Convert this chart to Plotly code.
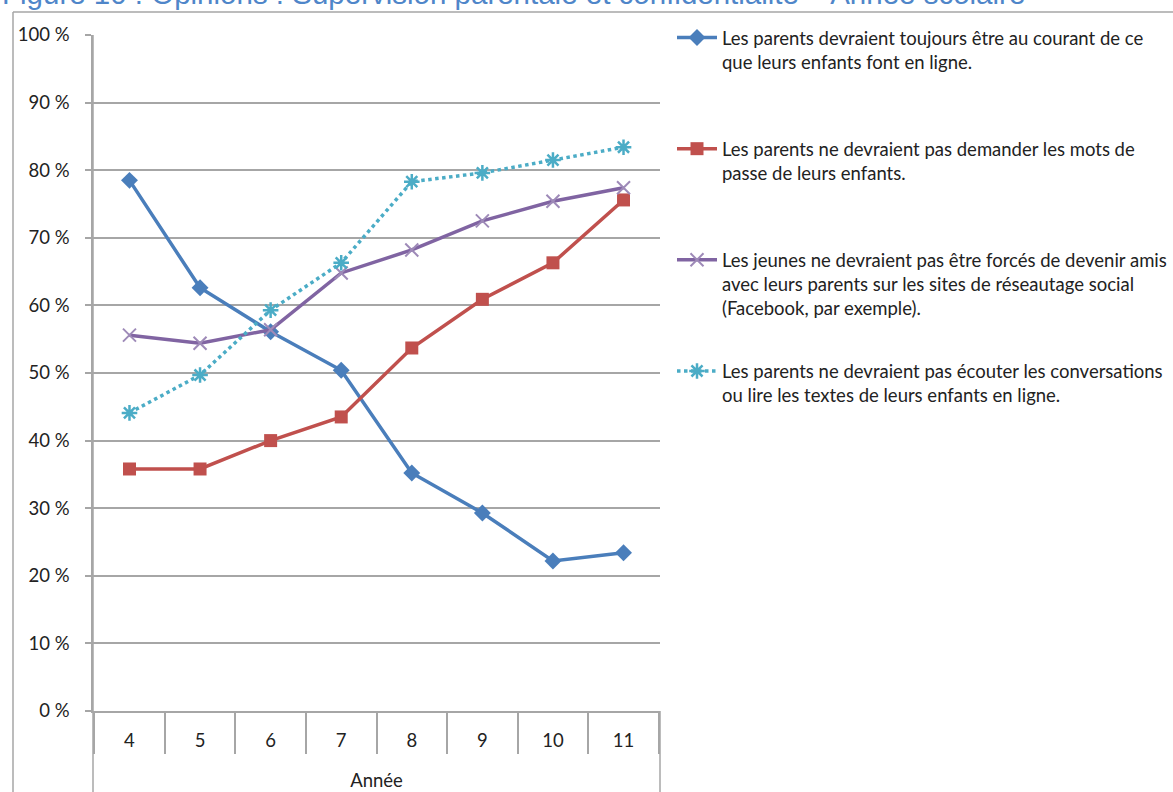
import plotly.graph_objects as go

years = ["4", "5", "6", "7", "8", "9", "10", "11"]

s1_name = "Les parents devraient toujours être au courant de ce<br>que leurs enfants font en ligne.<br>\u00a0"
s1_vals = [78.5, 62.6, 56.1, 50.4, 35.2, 29.3, 22.2, 23.4]

s2_name = "Les parents ne devraient pas demander les mots de<br>passe de leurs enfants.<br>\u00a0"
s2_vals = [35.8, 35.8, 40.0, 43.5, 53.7, 60.9, 66.3, 75.6]

s3_name = "Les jeunes ne devraient pas être forcés de devenir amis<br>avec leurs parents sur les sites de réseautage social<br>(Facebook, par exemple)."
s3_vals = [55.6, 54.4, 56.4, 64.8, 68.2, 72.5, 75.4, 77.4]

s4_name = "Les parents ne devraient pas écouter les conversations<br>ou lire les textes de leurs enfants en ligne.<br>\u00a0"
s4_vals = [44.1, 49.7, 59.3, 66.3, 78.3, 79.6, 81.5, 83.4]

y_ticks = [0, 10, 20, 30, 40, 50, 60, 70, 80, 90, 100]

title_text = "Figure 10 : Opinions : Supervision parentale et confidentialité – Année scolaire"

FONT = "Lato"
GRID = "#a6a6a6"
TXT = "#222222"

fig = go.Figure()
fig.add_trace(go.Scatter(
    x=years, y=s1_vals, name=s1_name, mode="lines+markers", legendgroup="g1",
    line=dict(color="#4a7ebb", width=3.5),
    marker=dict(symbol="diamond", size=13, color="#4a7ebb"),
))
fig.add_trace(go.Scatter(
    x=years, y=s2_vals, name=s2_name, mode="lines+markers", legendgroup="g2",
    line=dict(color="#c0504d", width=3.5),
    marker=dict(symbol="square", size=13, color="#c0504d"),
))
fig.add_trace(go.Scatter(
    x=years, y=s3_vals, name=s3_name, mode="lines+markers", legendgroup="g3",
    line=dict(color="#8064a2", width=3.5),
    marker=dict(symbol="x-thin-open", size=13, color="#9e8ab8",
                line=dict(color="#9e8ab8", width=2)),
))
fig.add_trace(go.Scatter(
    x=years, y=s4_vals, name=s4_name, mode="lines+markers", legendgroup="g4",
    line=dict(color="#4bacc6", width=3.5, dash="dot"),
    marker=dict(symbol="asterisk-open", size=13, color="#4bacc6",
                line=dict(color="#4bacc6", width=2.5)),
))

W, H = 1173, 792
L, R, T, B = 93, 513, 35, 81
pw, ph = W - L - R, H - T - B

def px_x(px):
    return (px - L) / pw

def px_y(py):
    return (H - B - py) / ph

shapes = [
    dict(type="line", xref="paper", yref="paper", x0=px_x(13), x1=px_x(W), y0=px_y(12), y1=px_y(12),
         line=dict(color=GRID, width=1.5)),
    dict(type="line", xref="paper", yref="paper", x0=px_x(13), x1=px_x(13), y0=px_y(12), y1=px_y(H),
         line=dict(color=GRID, width=1.5)),
    dict(type="line", xref="paper", yref="paper", x0=0, x1=0, y0=1, y1=px_y(H),
         line=dict(color=GRID, width=1.5)),
    dict(type="line", xref="paper", yref="paper", x0=1, x1=1, y0=0, y1=px_y(H),
         line=dict(color=GRID, width=1.5)),
]

fig.update_layout(
    width=W, height=H,
    margin=dict(l=L, r=R, t=T, b=B, pad=0, autoexpand=False),
    paper_bgcolor="white", plot_bgcolor="white",
    font=dict(family=FONT, size=18.5, color=TXT),
    showlegend=True,
    legend=dict(
        x=px_x(672), xanchor="left", y=px_y(19), yanchor="top",
        font=dict(family=FONT, size=18.5, color=TXT),
        tracegroupgap=36, valign="top", itemwidth=40,
        bgcolor="rgba(0,0,0,0)", maxheight=760,
    ),
    xaxis=dict(
        type="category", categoryorder="array", categoryarray=years,
        tickson="boundaries", ticks="outside", ticklen=41, tickcolor=GRID, tickwidth=1.5,
        showgrid=False, showline=True, linecolor=GRID, linewidth=1.5,
        tickfont=dict(family=FONT, size=18.5, color=TXT),
        ticklabelstandoff=12,
        title=dict(text="Année", font=dict(family=FONT, size=18.5, color=TXT), standoff=24),
        zeroline=False, fixedrange=True,
    ),
    yaxis=dict(
        range=[0, 100], tickvals=y_ticks, ticktext=[f"{v} %" for v in y_ticks],
        ticks="outside", ticklen=6, tickcolor=GRID, tickwidth=1.5,
        showgrid=True, gridcolor=GRID, gridwidth=1.5,
        showline=True, linecolor=GRID, linewidth=1.5,
        tickfont=dict(family=FONT, size=18.5, color=TXT),
        ticklabelstandoff=12,
        zeroline=False, fixedrange=True,
    ),
    shapes=shapes,
    annotations=[
        dict(text=title_text, xref="paper", yref="paper", x=px_x(0), y=px_y(12),
             xanchor="left", yanchor="bottom", showarrow=False,
             font=dict(family="Liberation Sans", size=29.5, color="#4f86c9")),
    ],
)

fig.write_html(
    "out.html",
    config={"displayModeBar": False},
    post_script="document.body.style.margin='0';document.body.style.overflow='hidden';",
)
